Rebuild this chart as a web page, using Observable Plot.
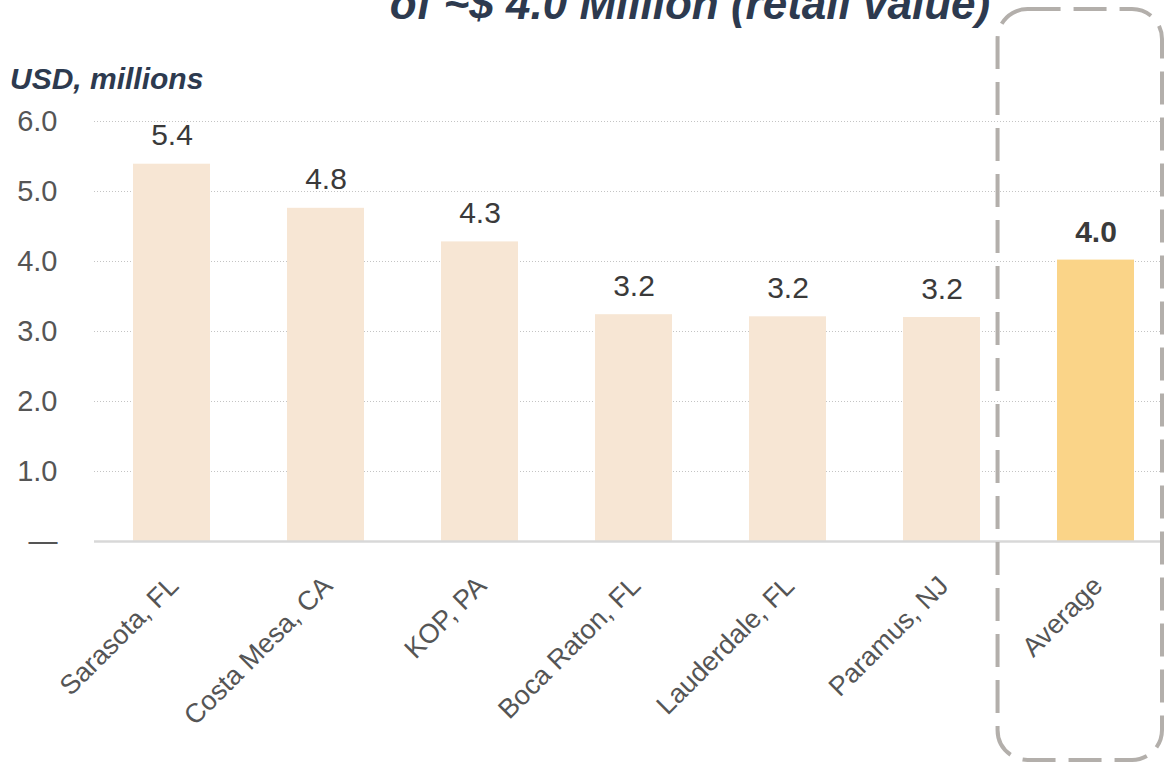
<!DOCTYPE html>
<html>
<head>
<meta charset="utf-8">
<script src="https://cdn.jsdelivr.net/npm/d3@7"></script>
<script src="https://cdn.jsdelivr.net/npm/@observablehq/plot@0.6"></script>
<style>
  html, body { margin: 0; padding: 0; background: #ffffff; }
  #chart { position: relative; width: 1164px; height: 763px; overflow: hidden; }
</style>
</head>
<body>
<div id="chart"></div>
<script>
// ---- data ----
const categories = ["Sarasota, FL", "Costa Mesa, CA", "KOP, PA", "Boca Raton, FL", "Lauderdale, FL", "Paramus, NJ", "Average"];
const values = [5.39, 4.76, 4.28, 3.24, 3.21, 3.20, 4.02];
const valueLabels = ["5.4", "4.8", "4.3", "3.2", "3.2", "3.2", "4.0"];
const yTicks = [0, 1, 2, 3, 4, 5, 6];
const yTickLabels = ["—", "1.0", "2.0", "3.0", "4.0", "5.0", "6.0"];
const titleText = "of ~$ 4.0 Million (retail value)";
const unitText = "USD, millions";
const highlight = "Average";

const data = categories.map((c, i) => ({cat: c, value: values[i], label: valueLabels[i]}));

const barColor = "#f7e6d4";
const avgColor = "#fad488";
const font = "'Liberation Sans', Arial, Helvetica, sans-serif";

const chart = Plot.plot({
  width: 1164,
  height: 763,
  marginTop: 121,
  marginBottom: 222,
  marginLeft: 94,
  marginRight: 0,
  style: {fontFamily: font, background: "#ffffff", overflow: "visible"},
  x: {domain: categories, range: [94, 1172], paddingInner: 0.5, paddingOuter: 0.25, axis: null},
  y: {domain: [0, 6], axis: null},
  color: {type: "identity"},
  marks: [
    Plot.ruleY(yTicks.filter(d => d > 0), {stroke: "#c4c4c4", strokeWidth: 1, strokeDasharray: "1,2"}),
    Plot.barY(data, {x: "cat", y: "value", fill: d => d.cat === highlight ? avgColor : barColor}),
    Plot.ruleY([0], {stroke: "#d8d8d8", strokeWidth: 2.5}),
    Plot.text(yTicks, {
      y: d => d, frameAnchor: "left", dx: -37, textAnchor: "end",
      text: (d, i) => yTickLabels[i], fontSize: 29, fill: "#555555", ariaLabel: "ytick"
    }),
    Plot.text(data.filter(d => d.cat !== highlight), {
      x: "cat", y: "value", text: "label", lineAnchor: "bottom", dy: -19,
      fontSize: 30, fill: "#3a3a3a"
    }),
    Plot.text(data.filter(d => d.cat === highlight), {
      x: "cat", y: "value", text: "label", lineAnchor: "bottom", dy: -18,
      fontSize: 30, fontWeight: "bold", fill: "#3a3a3a"
    }),
    Plot.text(data, {
      x: "cat", y: () => 0, text: "cat", rotate: -45, textAnchor: "end", lineAnchor: "bottom",
      dx: 8, dy: 46, fontSize: 27, fill: "#555555"
    })
  ]
});

const svg = d3.select(chart);
svg.selectAll("g[aria-label='ytick'] text").style("letter-spacing", "2px");

// title (clipped at top, as in the reference)
svg.append("text")
  .attr("x", 690).attr("y", 19)
  .attr("text-anchor", "middle")
  .style("font-family", font)
  .style("font-size", "44px").style("font-weight", "bold").style("font-style", "italic")
  .attr("fill", "#2d3a4f")
  .text(titleText);

// unit label
svg.append("text")
  .attr("x", 10).attr("y", 89)
  .attr("text-anchor", "start")
  .style("font-family", font)
  .style("font-size", "30px").style("font-weight", "bold").style("font-style", "italic")
  .attr("fill", "#2d3a4f")
  .text(unitText);

// dashed highlight box around the Average column
const xs = chart.scale("x");
const avgStart = xs.apply(highlight);
const step = xs.step;
const boxLeft = avgStart - 0.386 * step;
svg.append("rect")
  .attr("x", boxLeft).attr("y", 9)
  .attr("width", 1162 - boxLeft).attr("height", 751)
  .attr("rx", 30).attr("ry", 30)
  .attr("fill", "none")
  .attr("stroke", "#b3afab").attr("stroke-width", 4)
  .attr("stroke-dasharray", "33,13");

document.getElementById("chart").appendChild(chart);
</script>
</body>
</html>
